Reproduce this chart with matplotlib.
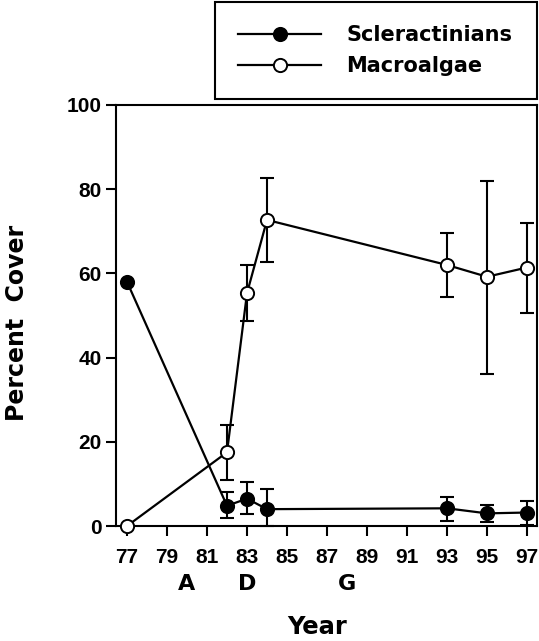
import numpy as np
import matplotlib.pyplot as plt
from matplotlib.lines import Line2D

plt.rcParams['font.family'] = ['Liberation Sans', 'DejaVu Sans']
plt.rcParams['font.weight'] = 'bold'

# datos
years = [77, 82, 83, 84, 93, 95, 97]
scler = [58.0, 4.8, 6.5, 4.0, 4.2, 3.0, 3.2]
scler_lo = [0, 2.8, 3.7, 4.0, 3.0, 2.0, 3.0]
scler_hi = [0, 3.3, 3.9, 4.8, 2.8, 2.0, 2.8]
macro = [0.0, 17.5, 55.3, 72.7, 62.0, 59.2, 61.4]
macro_lo = [0, 6.6, 6.6, 9.9, 7.7, 23.1, 10.9]
macro_hi = [0, 6.5, 6.7, 9.9, 7.5, 22.8, 10.5]
xticks = [77, 79, 81, 83, 85, 87, 89, 91, 93, 95, 97]
yticks = [0, 20, 40, 60, 80, 100]
events = ['A', 'D', 'G']
event_years = [80, 83, 88]
wide = ['DejaVu Sans']

fig = plt.figure(figsize=(5.39, 6.41), dpi=100)
ax = fig.add_axes([116/539, 1-526/641, 421/539, 421/641])

ms = 9.5
# barras de error (sin barra en 77)
ax.errorbar(years[1:], scler[1:], yerr=[scler_lo[1:], scler_hi[1:]], fmt='none', ecolor='k',
            elinewidth=1.5, capsize=5, capthick=1.5, clip_on=False, zorder=2)
ax.errorbar(years[1:], macro[1:], yerr=[macro_lo[1:], macro_hi[1:]], fmt='none', ecolor='k',
            elinewidth=1.5, capsize=5, capthick=1.5, clip_on=False, zorder=2)
ax.plot(years, scler, '-o', color='k', lw=1.6, ms=ms, mfc='k', mec='k', mew=1.4,
        clip_on=False, zorder=3)
ax.plot(years, macro, '-o', color='k', lw=1.6, ms=ms, mfc='white', mec='k', mew=1.4,
        clip_on=False, zorder=4)

ax.set_xlim(76.45, 97.5)
ax.set_ylim(0, 100)
ax.set_xticks(xticks)
ax.set_yticks(yticks)
ax.tick_params(direction='out', length=7.5, width=1.5, labelsize=15, color='k')
ax.tick_params(axis='x', pad=8)
ax.tick_params(axis='y', pad=3)
for s in ax.spines.values():
    s.set_linewidth(1.5)

for lab, yr in zip(events, event_years):
    ax.text(yr, -0.138, lab, transform=ax.get_xaxis_transform(), ha='center',
            va='center', fontsize=16, fontweight='bold', family=wide)

fig.text(317/539, 1-627/641, 'Year', ha='center', va='center', fontsize=17.5,
         fontweight='bold', family=wide)
fig.text(17/539, 1-323/641, 'Percent  Cover', ha='center', va='center', fontsize=17,
         fontweight='bold', rotation=90, family=wide)

h1 = Line2D([], [], color='k', lw=1.6, marker='o', ms=ms, mfc='k', mec='k', mew=1.4)
h2 = Line2D([], [], color='k', lw=1.6, marker='o', ms=ms, mfc='white', mec='k', mew=1.4)
leg = fig.legend([h1, h2], ['Scleractinians', 'Macroalgae'], loc='upper left',
                 bbox_to_anchor=(215/539, 1-97/641, 322/539, 95/641), mode='expand',
                 prop={'family': wide, 'weight': 'bold', 'size': 15}, frameon=True,
                 fancybox=False, edgecolor='k', framealpha=1, handlelength=4.0,
                 handletextpad=1.2, borderpad=1.1, labelspacing=0.55, borderaxespad=0)
leg.get_frame().set_linewidth(1.5)

fig.savefig('out.png', dpi=100)
